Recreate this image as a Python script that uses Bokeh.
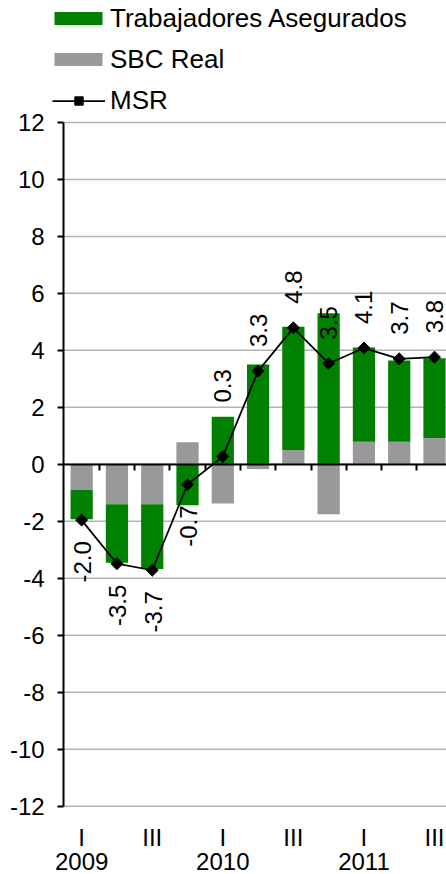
from math import pi
from bokeh.plotting import figure
from bokeh.models import (ColumnDataSource, Range1d, FixedTicker, LinearAxis,
                          Legend, LegendItem)
from bokeh.core.properties import value
from bokeh.embed import file_html
from bokeh.resources import INLINE

# ---------------- data ----------------
quarters = ["I", "II", "III", "IV", "I", "II", "III", "IV", "I", "II", "III"]
years = ["2009", "2009", "2009", "2009", "2010", "2010", "2010", "2010",
         "2011", "2011", "2011"]
sbc_real = [-0.90, -1.40, -1.40, 0.77, -1.38, -0.17, 0.50, -1.75, 0.79, 0.79, 0.92]
trabajadores = [-1.03, -2.06, -2.28, -1.44, 1.67, 3.50, 4.33, 5.30, 3.31, 2.85, 2.80]
msr = [-1.96, -3.49, -3.72, -0.71, 0.27, 3.27, 4.79, 3.54, 4.08, 3.70, 3.76]
y_ticks = list(range(-12, 13, 2))

FONT = "Liberation Sans"
GREEN = "#008000"
GRAY = "#999999"

x = list(range(1, len(quarters) + 1))
X_START, X_END = 0.49, 11.34      # plotting area (category axis) extent

# stacking (positive parts stack upward, negative parts downward)
sbc_bottom, sbc_top, tr_bottom, tr_top = [], [], [], []
for s, t in zip(sbc_real, trabajadores):
    sbc_bottom.append(0.0)
    sbc_top.append(s)
    base = s if (s >= 0) == (t >= 0) else 0.0
    tr_bottom.append(base)
    tr_top.append(base + t)

src = ColumnDataSource(dict(x=x, msr=msr, sbc_bottom=sbc_bottom, sbc_top=sbc_top,
                            tr_bottom=tr_bottom, tr_top=tr_top))

p = figure(width=446, height=874, output_backend="svg", toolbar_location=None,
           x_range=Range1d(-1.30, X_END), y_range=Range1d(-14.40, 16.28),
           x_axis_location=None,
           min_border_left=0, min_border_right=0, min_border_top=0,
           min_border_bottom=0)
p.outline_line_color = None
p.background_fill_color = "white"
p.border_fill_color = "white"
p.xgrid.visible = False
p.ygrid.visible = False

# horizontal gridlines (from the value axis to the right edge)
p.segment(x0=[X_START] * len(y_ticks), x1=[X_END] * len(y_ticks),
          y0=y_ticks, y1=y_ticks, line_color="#b4b4b4", line_width=1.5)

# y axis at the left edge of the plotting area
yax = p.yaxis[0]
yax.fixed_location = X_START
yax.ticker = FixedTicker(ticks=y_ticks)
yax.bounds = (-12, 12)
yax.major_label_overrides = {t: str(t) for t in y_ticks}
yax.major_tick_out = 6
yax.major_tick_in = 0
yax.minor_tick_out = 0
yax.minor_tick_in = 0
yax.axis_line_width = 2
yax.axis_line_color = "black"
yax.major_tick_line_width = 2
yax.major_tick_line_color = "black"
yax.major_label_text_font = FONT
yax.major_label_text_font_size = "24px"
yax.major_label_text_color = "black"
yax.major_label_standoff = 13

# zero axis with ticks between categories
boundaries = [xi + 0.5 for xi in x[:-1]]
zero_axis = LinearAxis(fixed_location=0, ticker=FixedTicker(ticks=boundaries),
                       bounds=(X_START, X_END),
                       major_tick_out=6, major_tick_in=0,
                       minor_tick_out=0, minor_tick_in=0,
                       axis_line_width=2, axis_line_color="black",
                       major_tick_line_width=2, major_tick_line_color="black",
                       major_label_overrides={b: "" for b in boundaries},
                       major_label_standoff=0)
p.add_layout(zero_axis, "below")

# bars
gray_r = p.vbar(x="x", width=0.63, bottom="sbc_bottom", top="sbc_top",
                fill_color=GRAY, line_color=None, source=src)
green_r = p.vbar(x="x", width=0.63, bottom="tr_bottom", top="tr_top",
                 fill_color=GREEN, line_color=None, source=src)
line_r = p.line(x="x", y="msr", line_color="black", line_width=1.75, source=src)
pts_r = p.scatter(x="x", y="msr", marker="square", size=8.5, angle=pi / 4,
                  fill_color="black", line_color="black", source=src)

# data labels
label_nudge = {4: -30}
pos = dict(x=[], y=[], t=[], off=[])
neg = dict(x=[], y=[], t=[], off=[])
for i, (xi, v) in enumerate(zip(x, msr)):
    txt = f"{v:.1f}"
    if v >= 0:
        pos["x"].append(xi); pos["y"].append(v); pos["t"].append(txt)
        pos["off"].append(-24 + label_nudge.get(i, 0))
    else:
        neg["x"].append(xi); neg["y"].append(v); neg["t"].append(txt)
        neg["off"].append(21 + label_nudge.get(i, 0))

p.text(x="x", y="y", text="t", y_offset="off", x_offset=0, angle=pi / 2,
       text_align="left", text_baseline="middle", text_font=value(FONT),
       text_font_size="24px", text_color="black", source=ColumnDataSource(pos))
p.text(x="x", y="y", text="t", y_offset="off", x_offset=1, angle=pi / 2,
       text_align="right", text_baseline="middle", text_font=value(FONT),
       text_font_size="24px", text_color="black", source=ColumnDataSource(neg))

# category labels (quarters and years)
q_x = [xi for xi, q in zip(x, quarters) if q in ("I", "III")]
q_t = [q for q in quarters if q in ("I", "III")]
y_x = [xi for xi, q in zip(x, quarters) if q == "I"]
y_t = [yr for yr, q in zip(years, quarters) if q == "I"]
p.text(x=q_x, y=[-12] * len(q_x), text=q_t, y_offset=31, text_align="center",
       text_baseline="alphabetic", text_font=value(FONT), text_font_size="24px",
       text_color="black")
p.text(x=y_x, y=[-12] * len(y_x), text=y_t, y_offset=55.5, text_align="center",
       text_baseline="alphabetic", text_font=value(FONT), text_font_size="24px",
       text_color="black")

# legends
leg_a = Legend(items=[LegendItem(label="Trabajadores Asegurados", renderers=[green_r]),
                      LegendItem(label="SBC Real", renderers=[gray_r])],
               location=(48, 799), orientation="vertical",
               glyph_width=60, glyph_height=16, label_height=32, spacing=9,
               padding=0, margin=0, border_line_color=None,
               background_fill_alpha=0, label_standoff=2,
               label_text_font=FONT, label_text_font_size="26px",
               label_text_color="black")
leg_b = Legend(items=[LegendItem(label="MSR", renderers=[line_r, pts_r])],
               location=(52, 758), orientation="vertical",
               glyph_width=53, glyph_height=21, label_height=32, spacing=0,
               padding=0, margin=0, border_line_color=None,
               background_fill_alpha=0, label_standoff=5,
               label_text_font=FONT, label_text_font_size="26px",
               label_text_color="black")
p.add_layout(leg_a)
p.add_layout(leg_b)

open("out.html", "w").write(file_html(p, INLINE))
